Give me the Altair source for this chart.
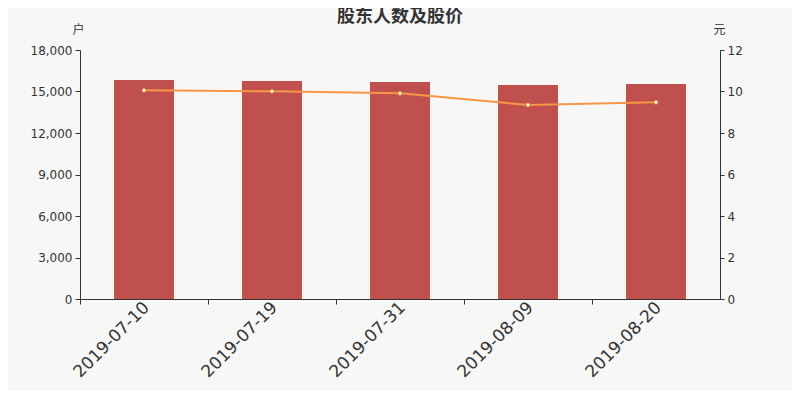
import altair as alt
import pandas as pd

dates = ["2019-07-10", "2019-07-19", "2019-07-31", "2019-08-09", "2019-08-20"]
holders = [15830, 15760, 15690, 15470, 15540]
prices = [10.06, 10.01, 9.91, 9.35, 9.48]

df = pd.DataFrame({"date": dates, "holders": holders, "price": prices})

LABEL_FONT = "DejaVu Sans"
CJK = "Noto Sans CJK SC"
TXT = "#333333"

x_enc = alt.X(
    "date:N", sort=None, title=None,
    scale=alt.Scale(paddingInner=0, paddingOuter=0),
    axis=alt.Axis(labelAngle=-45, labelFontSize=17, labelFont=LABEL_FONT,
                  labelColor=TXT, domainColor=TXT, tickColor=TXT, tickSize=5,
                  bandPosition=0, labelPadding=-5, labelOffset=-3, grid=False),
)

bars = alt.Chart(df).mark_bar(size=60, color="#c0504d").encode(
    x=x_enc,
    y=alt.Y("holders:Q", scale=alt.Scale(domain=[0, 18000]),
            axis=alt.Axis(values=[0, 3000, 6000, 9000, 12000, 15000, 18000], format=",d",
                          title="户", titleAngle=0, titleX=-2, titleY=-21,
                          titleAlign="center", titleBaseline="middle",
                          titleFont=CJK, titleFontSize=12, titleFontWeight="normal",
                          titleColor=TXT, labelFont=LABEL_FONT, labelFontSize=12,
                          labelColor=TXT, domainColor=TXT, tickColor=TXT,
                          tickSize=5, labelPadding=3, grid=False)),
)

line = alt.Chart(df).mark_line(color="#f79646", strokeWidth=2).encode(
    x=alt.X("date:N", sort=None),
    y=alt.Y("price:Q", scale=alt.Scale(domain=[0, 12]),
            axis=alt.Axis(orient="right", values=[0, 2, 4, 6, 8, 10, 12],
                          title="元", titleAngle=0, titleX=-1, titleY=-21,
                          titleAlign="center", titleBaseline="middle",
                          titleFont=CJK, titleFontSize=12, titleFontWeight="normal",
                          titleColor=TXT, labelFont=LABEL_FONT, labelFontSize=12,
                          labelColor=TXT, domainColor=TXT, tickColor=TXT,
                          tickSize=4, labelPadding=3, grid=False)),
)

points = alt.Chart(df).mark_point(filled=True, fill="white", stroke="#f79646",
                                  strokeWidth=1, size=14, opacity=1).encode(
    x=alt.X("date:N", sort=None),
    y=alt.Y("price:Q", scale=alt.Scale(domain=[0, 12])),
)

right = alt.layer(line, points)

chart = alt.layer(bars, right).resolve_scale(y="independent").properties(
    width=640, height=249,
    autosize=alt.AutoSizeParams(type="none"),
    padding={"left": 72, "top": 42, "right": 72, "bottom": 92},
    background="#f7f7f7",
    title=alt.TitleParams("股东人数及股价", font=CJK, fontSize=18, fontWeight="bold",
                          color=TXT, anchor="middle", offset=-3),
).configure_view(stroke=None)

chart.save("out.html", embed_options={"renderer": "svg", "actions": False})
